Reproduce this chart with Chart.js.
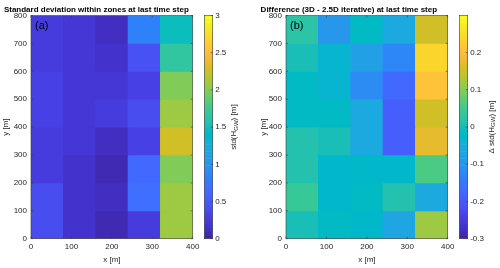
<!DOCTYPE html>
<html>
<head>
<meta charset="utf-8">
<script src="https://cdn.jsdelivr.net/npm/chart.js@4.4.1/dist/chart.umd.min.js"></script>
<style>
html,body{margin:0;padding:0;background:#ffffff;}
#stage{position:relative;width:500px;height:268px;overflow:hidden;background:#fff;}
#stage canvas{position:absolute;top:0;}
</style>
</head>
<body>
<div id="stage">
<canvas id="heatA" width="224" height="268" style="left:0px"></canvas>
<canvas id="barA" width="50" height="268" style="left:200px"></canvas>
<canvas id="heatB" width="234" height="268" style="left:250px"></canvas>
<canvas id="barB" width="45" height="268" style="left:455px"></canvas>
</div>
<script>
// ---------------- data ----------------
// zone edges (m)
const xEdges = [0, 80, 160, 240, 320, 400];
const yEdges = [0, 100, 200, 300, 400, 500, 600, 700, 800];
const xTicks = [0, 100, 200, 300, 400];
const yTicks = [0, 100, 200, 300, 400, 500, 600, 700, 800];

// (a) std within zones [m]; rows from y=0-100 (bottom) to y=700-800 (top), columns x=0-80 ... 320-400
const stdRow1 = [0.42, 0.18, 0.05, 0.27, 2.08];
const stdRow2 = [0.38, 0.18, 0.12, 0.68, 2.08];
const stdRow3 = [0.27, 0.15, 0.07, 0.63, 1.98];
const stdRow4 = [0.28, 0.20, 0.10, 0.32, 2.29];
const stdRow5 = [0.30, 0.20, 0.25, 0.38, 2.10];
const stdRow6 = [0.30, 0.20, 0.20, 0.30, 1.98];
const stdRow7 = [0.27, 0.20, 0.18, 0.45, 1.67];
const stdRow8 = [0.27, 0.22, 0.12, 0.81, 1.47];
const stdRange = [0, 3];
const stdTicks = [0, 0.5, 1, 1.5, 2, 2.5, 3];

// (b) difference 3D - 2.5D iterative [m]
const diffRow1 = [0.000, -0.010, -0.020, -0.070, 0.115];
const diffRow2 = [0.040, -0.025, -0.010, 0.010, -0.060];
const diffRow3 = [0.015, -0.025, -0.025, -0.025, 0.060];
const diffRow4 = [0.010, 0.005, -0.060, -0.195, 0.176];
const diffRow5 = [-0.010, -0.010, -0.060, -0.195, 0.155];
const diffRow6 = [-0.010, -0.030, -0.120, -0.170, 0.210];
const diffRow7 = [0.000, -0.030, -0.080, -0.130, 0.234];
const diffRow8 = [0.024, -0.096, -0.012, -0.060, 0.155];
const diffRange = [-0.3, 0.2995];
const diffTicks = [-0.3, -0.2, -0.1, 0, 0.1, 0.2];

const titleA = 'Standard deviation within zones at last time step';
const titleB = 'Difference (3D - 2.5D iterative) at last time step';

// ---------------- colormap (parula, 64) ----------------
const PARULA = [
[0.2422,0.1504,0.6603],[0.2504,0.1650,0.7076],[0.2578,0.1818,0.7511],[0.2647,0.1978,0.7952],
[0.2706,0.2147,0.8364],[0.2751,0.2342,0.8710],[0.2783,0.2559,0.8991],[0.2803,0.2782,0.9221],
[0.2813,0.3006,0.9414],[0.2810,0.3228,0.9579],[0.2795,0.3447,0.9717],[0.2760,0.3667,0.9829],
[0.2699,0.3892,0.9906],[0.2602,0.4123,0.9952],[0.2440,0.4358,0.9988],[0.2206,0.4603,0.9973],
[0.1963,0.4847,0.9892],[0.1834,0.5074,0.9798],[0.1786,0.5289,0.9682],[0.1764,0.5499,0.9520],
[0.1687,0.5703,0.9359],[0.1540,0.5902,0.9218],[0.1460,0.6091,0.9079],[0.1380,0.6276,0.8973],
[0.1248,0.6459,0.8883],[0.1113,0.6635,0.8763],[0.0952,0.6798,0.8598],[0.0689,0.6948,0.8394],
[0.0297,0.7082,0.8163],[0.0036,0.7203,0.7917],[0.0067,0.7312,0.7660],[0.0433,0.7411,0.7394],
[0.0964,0.7500,0.7120],[0.1408,0.7584,0.6842],[0.1717,0.7670,0.6554],[0.1938,0.7758,0.6251],
[0.2161,0.7843,0.5923],[0.2470,0.7918,0.5567],[0.2906,0.7973,0.5188],[0.3406,0.8008,0.4789],
[0.3909,0.8029,0.4354],[0.4456,0.8024,0.3909],[0.5044,0.7993,0.3480],[0.5616,0.7942,0.3045],
[0.6174,0.7876,0.2612],[0.6720,0.7793,0.2227],[0.7242,0.7698,0.1910],[0.7738,0.7598,0.1646],
[0.8203,0.7498,0.1535],[0.8634,0.7406,0.1596],[0.9035,0.7330,0.1774],[0.9393,0.7288,0.2100],
[0.9728,0.7298,0.2394],[0.9956,0.7434,0.2371],[0.9970,0.7659,0.2199],[0.9952,0.7893,0.2028],
[0.9892,0.8136,0.1885],[0.9786,0.8386,0.1766],[0.9676,0.8639,0.1643],[0.9610,0.8890,0.1537],
[0.9597,0.9135,0.1423],[0.9628,0.9373,0.1265],[0.9691,0.9606,0.1064],[0.9769,0.9839,0.0805]];

function cmapColor(t) {
  const n = PARULA.length;
  let i = Math.floor(t * n);
  i = Math.max(0, Math.min(n - 1, i));
  const c = PARULA[i];
  return 'rgb(' + Math.round(c[0]*255) + ',' + Math.round(c[1]*255) + ',' + Math.round(c[2]*255) + ')';
}

const FONT = "'Liberation Sans', Arial, Helvetica, sans-serif";
const INK = '#262626';

// frame, inward ticks, panel tag, colorbar label with subscript
const framePlugin = {
  id: 'frame',
  afterDatasetsDraw(chart, args, o) {
    const ctx = chart.ctx, a = chart.chartArea;
    ctx.save();
    ctx.strokeStyle = '#3a3a3a';
    ctx.lineWidth = 0.6;
    ctx.strokeRect(a.left, a.top, a.right - a.left, a.bottom - a.top);
    const L = o.tickLen || 2;
    ctx.beginPath();
    if (o.xTicks) {
      for (const v of o.xTicks) {
        const p = chart.scales.x.getPixelForValue(v);
        ctx.moveTo(p, a.bottom); ctx.lineTo(p, a.bottom - L);
        ctx.moveTo(p, a.top); ctx.lineTo(p, a.top + L);
      }
    }
    if (o.yTicks) {
      for (const v of o.yTicks) {
        const p = chart.scales[o.yScale].getPixelForValue(v);
        if (o.bothSides) { ctx.moveTo(a.left, p); ctx.lineTo(a.left + L, p); }
        ctx.moveTo(a.right, p); ctx.lineTo(a.right - L, p);
      }
    }
    ctx.stroke();
    if (o.tag) {
      ctx.fillStyle = '#000';
      ctx.font = '11px ' + FONT;
      ctx.textAlign = 'left';
      ctx.textBaseline = 'middle';
      ctx.fillText(o.tag, a.left + 4, a.top + 10);
    }
    if (o.label) {
      ctx.fillStyle = INK;
      ctx.textAlign = 'left';
      ctx.textBaseline = 'middle';
      let total = 0;
      const widths = o.label.map(([txt, sub]) => {
        ctx.font = (sub ? '6px ' : '8px ') + FONT;
        const w = ctx.measureText(txt).width; total += w; return w;
      });
      ctx.translate(o.labelX, (a.top + a.bottom) / 2);
      ctx.rotate(-Math.PI / 2);
      let x = -total / 2;
      o.label.forEach(([txt, sub], i) => {
        ctx.font = (sub ? '6px ' : '8px ') + FONT;
        ctx.fillText(txt, x, sub ? 2 : 0);
        x += widths[i];
      });
    }
    ctx.restore();
  }
};

function makeHeatmap(id, rows, range, title, tag, yAxisW, rightPad, yTitlePad) {
  const data = [], colors = [];
  rows.forEach((row, r) => {
    row.forEach((v, c) => {
      data.push({ x: (xEdges[c] + xEdges[c + 1]) / 2, y: [yEdges[r], yEdges[r + 1]] });
      colors.push(cmapColor((v - range[0]) / (range[1] - range[0])));
    });
  });
  const tickFont = { family: FONT, size: 8 };
  return new Chart(document.getElementById(id), {
    type: 'bar',
    data: { datasets: [{ data, backgroundColor: colors, borderWidth: 0, barPercentage: 1, categoryPercentage: 1 }] },
    options: {
      responsive: false, animation: false, events: [],
      layout: { padding: { left: 0, right: rightPad, top: 0, bottom: 0 } },
      plugins: {
        legend: { display: false }, tooltip: { enabled: false },
        title: { display: true, text: title, color: '#000', font: { family: FONT, size: 8, weight: 'bold' }, padding: { top: 4.6, bottom: 1.3 } },
        frame: { xTicks, yTicks, yScale: 'y', bothSides: true, tag, tickLen: 2 }
      },
      scales: {
        x: {
          type: 'linear', min: 0, max: 400, offset: false,
          afterBuildTicks(s) { s.ticks = xTicks.map(v => ({ value: v })); },
          ticks: { font: tickFont, color: INK, padding: 3.5, maxRotation: 0, autoSkip: false },
          grid: { display: false, drawTicks: false }, border: { display: false },
          title: { display: true, text: 'x [m]', color: INK, font: { family: FONT, size: 8 }, padding: { top: 0, bottom: 3.7 } },
          afterFit(s) { s.height = 29.3; }
        },
        y: {
          type: 'linear', min: 0, max: 800, offset: false,
          afterBuildTicks(s) { s.ticks = yTicks.map(v => ({ value: v })); },
          ticks: { font: tickFont, color: INK, padding: 4, autoSkip: false },
          grid: { display: false, drawTicks: false }, border: { display: false },
          title: { display: true, text: 'y [m]', color: INK, font: { family: FONT, size: 8 }, padding: { top: yTitlePad, bottom: 0 } },
          afterFit(s) { s.width = yAxisW; }
        }
      }
    },
    plugins: [framePlugin]
  });
}

function makeColorbar(id, range, tickVals, labelParts, labelX, axisW) {
  const n = PARULA.length;
  const levels = PARULA.map((_, i) => range[0] + (i + 0.5) * (range[1] - range[0]) / n);
  return new Chart(document.getElementById(id), {
    type: 'bar',
    data: {
      labels: levels,
      datasets: [{
        data: levels.map(() => 1),
        backgroundColor: levels.map(l => cmapColor((l - range[0]) / (range[1] - range[0]))),
        borderWidth: 0, barPercentage: 1, categoryPercentage: 1
      }]
    },
    options: {
      indexAxis: 'y', responsive: false, animation: false, events: [],
      layout: { padding: { left: 4.3, right: 0, top: 15.5, bottom: 29.3 } },
      plugins: {
        legend: { display: false }, tooltip: { enabled: false },
        frame: { yTicks: tickVals, yScale: 'cb', bothSides: false, label: labelParts, labelX, tickLen: 2 }
      },
      scales: {
        y: { type: 'category', reverse: true, display: false, offset: true },
        x: { type: 'linear', min: 0, max: 1, display: false },
        cb: {
          type: 'linear', axis: 'y', position: 'right', min: range[0], max: range[1], offset: false,
          afterBuildTicks(s) { s.ticks = tickVals.map(v => ({ value: v })); },
          ticks: { font: { family: FONT, size: 8 }, color: INK, padding: 2.5, autoSkip: false, callback: v => String(v) },
          grid: { display: false, drawTicks: false, offset: false }, border: { display: false },
          afterFit(s) { s.width = axisW; }
        }
      }
    },
    plugins: [framePlugin]
  });
}

const stdRows = [stdRow1, stdRow2, stdRow3, stdRow4, stdRow5, stdRow6, stdRow7, stdRow8];
const diffRows = [diffRow1, diffRow2, diffRow3, diffRow4, diffRow5, diffRow6, diffRow7, diffRow8];

makeHeatmap('heatA', stdRows, stdRange, titleA, '(a)', 31, 31.3, 1.2);
makeColorbar('barA', stdRange, stdTicks, [['std(H', false], ['GW', true], [') [m]', false]], 34, 37.3);
makeHeatmap('heatB', diffRows, diffRange, titleB, '(b)', 36, 36.3, 9.2);
makeColorbar('barB', diffRange, diffTicks, [['\u0394 std(H', false], ['GW', true], [') [m]', false]], 36.5, 32.3);
</script>
</body>
</html>
